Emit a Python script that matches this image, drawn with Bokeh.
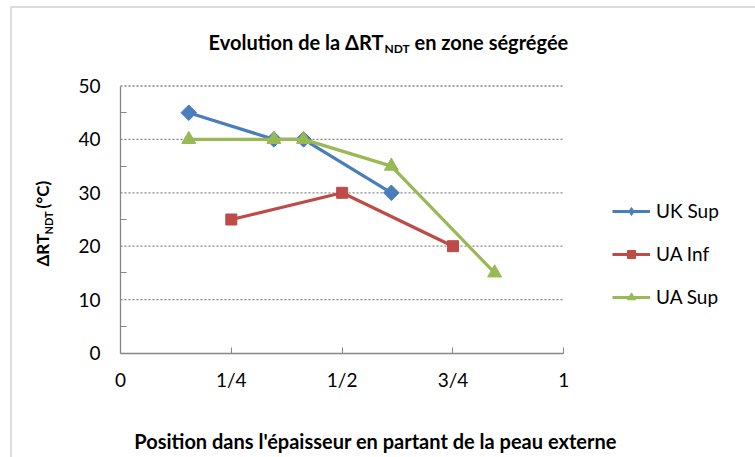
import math
from bokeh.plotting import figure
from bokeh.models import Range1d, FixedTicker, Label, Legend, LegendItem, BoxAnnotation, LinearAxis
from bokeh.embed import file_html
from bokeh.resources import INLINE

# ---- data ----
series_names = ["UK Sup", "UA Inf", "UA Sup"]
pos_uk_sup = [0.154, 0.346, 0.413, 0.611]
uk_sup = [45, 40, 40, 30]
pos_ua_inf = [0.25, 0.5, 0.75]
ua_inf = [25, 30, 20]
pos_ua_sup = [0.154, 0.346, 0.413, 0.611, 0.844]
ua_sup = [40, 40, 40, 35, 15]
x_ticks = [0, 0.25, 0.5, 0.75, 1]
x_tick_labels = ["0", "1/4", "1/2", "3/4", "1"]
y_ticks = [0, 10, 20, 30, 40, 50]
y_minor_ticks = [5, 15, 25, 35, 45]

# ---- layout (pixel geometry of the reference picture) ----
W, H = 755, 457
AX_L, AX_R = 120.0, 563.3     # x=0 and x=1 in px
AX_B, AX_T = 352.5, 85.5      # y=0 and y=50 in px
FONT = "Lato"


def fx(px):
    return (px - AX_L) / (AX_R - AX_L)


def fy(py):
    return (AX_B - py) * 50.0 / (AX_B - AX_T)


p = figure(width=W, height=H, min_border=0,
           x_range=Range1d(fx(0), fx(W)), y_range=Range1d(fy(H), fy(0)),
           x_axis_type=None, y_axis_type=None,
           output_backend="svg", toolbar_location=None)
p.title.visible = False
p.outline_line_color = None
p.background_fill_color = "white"
p.border_fill_color = "white"

# axes at fixed locations
xax = LinearAxis(fixed_location=0, bounds=(0, 1), ticker=FixedTicker(ticks=x_ticks))
xax.major_label_overrides = {t: l for t, l in zip(x_ticks, x_tick_labels)}
yax = LinearAxis(fixed_location=0, bounds=(0, 50),
                 ticker=FixedTicker(ticks=y_ticks, minor_ticks=y_minor_ticks))
for ax in (xax, yax):
    ax.axis_line_color = "#868686"
    ax.axis_line_width = 1.3
    ax.major_tick_line_color = "#868686"
    ax.minor_tick_line_color = "#868686"
    ax.major_label_text_font = FONT
    ax.major_label_text_font_size = "19px"
    ax.major_label_text_color = "black"
xax.major_tick_in = 6
xax.major_tick_out = 0
xax.minor_tick_in = 0
xax.minor_tick_out = 0
xax.major_label_standoff = 15
yax.major_tick_in = 0
yax.major_tick_out = 0
yax.minor_tick_in = 6
yax.minor_tick_out = 0
yax.major_label_standoff = 20
p.add_layout(xax, "below")
p.add_layout(yax, "left")

# horizontal dotted gridlines between x=0 and x=1
grid_vals = y_ticks[1:]
p.segment(x0=[0] * len(grid_vals), x1=[1] * len(grid_vals), y0=grid_vals, y1=grid_vals,
          line_color="#868686", line_dash="2 2", line_width=1.3)

# series
colors = ["#4a7ebb", "#be4b48", "#98b954"]
markers = ["square", "square", "triangle"]
legend_markers = ["diamond", "square", "triangle"]
legend_sizes = [17, 11, 14]
angles = [math.pi / 4, 0, 0]
sizes = [11, 11, 14]
xs = [pos_uk_sup, pos_ua_inf, pos_ua_sup]
ys = [uk_sup, ua_inf, ua_sup]
items = []
for i, (name, c) in enumerate(zip(series_names, colors)):
    ln = p.line(xs[i], ys[i], line_color=c, line_width=3.2)
    p.scatter(xs[i], ys[i], marker=markers[i], angle=angles[i], size=sizes[i],
              fill_color=c, line_color=c)
    # legend-only marker renderer (no visible data point)
    lg = p.scatter(x=[float("nan")], y=[float("nan")], marker=legend_markers[i],
                   size=legend_sizes[i], fill_color=c, line_color=c)
    items.append(LegendItem(label=name, renderers=[ln, lg]))

legend = Legend(items=items, location=(612, H - 308), orientation="vertical",
                glyph_width=38, glyph_height=20, label_height=20, spacing=20,
                label_standoff=6, padding=0, margin=0,
                border_line_color=None, background_fill_alpha=0,
                label_text_font=FONT, label_text_font_size="19px",
                label_text_color="black")
p.add_layout(legend, "center")

# outer chart border (top and left edges visible)
p.add_layout(BoxAnnotation(left=fx(10.5), right=fx(900), top=fy(6.5), bottom=fy(700),
                           fill_alpha=0, line_color="#8c8c8c", line_width=2))

# title with subscript
tkw = dict(text_font=FONT, text_font_style="bold", text_color="black",
           text_baseline="middle")
p.add_layout(Label(x=fx(383), y=fy(41), text="Evolution de la ΔRT", text_align="right",
                   text_font_size="20px", **tkw))
p.add_layout(Label(x=fx(384), y=fy(48), text="NDT", text_align="left",
                   text_font_size="12px", **tkw))
p.add_layout(Label(x=fx(414), y=fy(41), text="en zone ségrégée", text_align="left",
                   text_font_size="20px", **tkw))

# y axis title (rotated) with subscript
p.add_layout(Label(x=fx(42), y=fy(266), text="ΔRT", angle=math.pi / 2, text_align="left",
                   text_font_size="17px", **tkw))
p.add_layout(Label(x=fx(48), y=fy(234), text="NDT", angle=math.pi / 2, text_align="left",
                   text_font_size="11px", **tkw))
p.add_layout(Label(x=fx(42), y=fy(208), text="(°C)", angle=math.pi / 2, text_align="left",
                   text_font_size="17px", **tkw))

# x axis title
p.add_layout(Label(x=fx(375), y=fy(440), text="Position dans l'épaisseur en partant de la peau externe",
                   text_align="center", text_font_size="20px", **tkw))

open("out.html", "w").write(file_html(p, INLINE))
